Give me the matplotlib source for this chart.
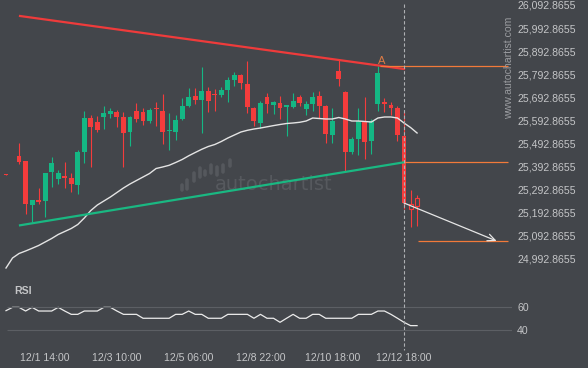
import matplotlib
matplotlib.use('Agg')
import matplotlib.pyplot as plt
import matplotlib.transforms as mtransforms
from matplotlib.lines import Line2D
import numpy as np

BG = '#43464b'
UP = '#14b784'
DOWN = '#f43c3c'
TXT = '#c4c5c7'
ORANGE = '#f27a3a'

plt.rcParams['font.family'] = ['Liberation Sans', 'DejaVu Sans']

# candles (price values)
opens = [25361.8, 25454.5, 25438.9, 25417.2, 25226.6, 25248.3, 25244.0, 25369.6,
         25339.3, 25350.1, 25343.6, 25313.3, 25456.2, 25603.4, 25586.1, 25607.8,
         25620.8, 25629.4, 25607.8, 25542.8, 25633.8, 25629.4, 25590.4, 25644.6,
         25633.8, 25545.0, 25542.8, 25599.1, 25655.4, 25698.7, 25681.4, 25720.4,
         25709.5, 25703.1, 25724.7, 25768.0, 25789.7, 25750.7, 25646.8, 25581.8,
         25694.4, 25659.7, 25668.4, 25653.2, 25651.1, 25694.4, 25642.4, 25664.1,
         25698.7, 25655.4, 25529.8, 25807.0, 25716.0, 25456.2, 25512.5, 25590.4,
         25503.8, 25664.1, 25670.6, 25659.7, 25646.8, 25525.5, 25209.3, 25222.3]
highs = [25361.8, 25457.9, 25495.2, 25417.2, 25248.3, 25300.3, 25365.2, 25434.5,
         25378.2, 25412.9, 25365.2, 25464.8, 25633.8, 25616.4, 25612.1, 25655.4,
         25646.8, 25638.1, 25629.4, 25612.1, 25668.4, 25646.8, 25646.8, 25672.7,
         25707.4, 25625.1, 25616.4, 25690.1, 25733.4, 25733.4, 25824.3, 25737.7,
         25729.0, 25737.7, 25781.0, 25802.7, 25794.0, 25850.3, 25651.1, 25677.1,
         25711.7, 25677.1, 25698.7, 25659.7, 25711.7, 25703.1, 25677.1, 25716.0,
         25720.4, 25659.7, 25646.8, 25854.6, 25720.4, 25521.2, 25646.8, 25694.4,
         25599.1, 25828.7, 25690.1, 25672.7, 25655.4, 25633.8, 25291.6, 25270.0]
lows = [25358.3, 25454.5, 25404.2, 25187.7, 25153.0, 25231.0, 25174.7, 25304.6,
        25317.6, 25300.3, 25282.9, 25274.3, 25408.5, 25391.2, 25542.8, 25555.8,
        25603.4, 25564.5, 25391.2, 25482.2, 25586.1, 25573.1, 25581.8, 25568.8,
        25490.8, 25464.8, 25508.2, 25594.8, 25651.1, 25664.1, 25538.5, 25629.4,
        25633.8, 25694.4, 25672.7, 25742.0, 25729.0, 25625.1, 25568.8, 25560.1,
        25625.1, 25620.8, 25599.1, 25525.5, 25646.8, 25655.4, 25616.4, 25633.8,
        25603.4, 25495.2, 25495.2, 25742.0, 25373.9, 25447.5, 25443.2, 25425.9,
        25447.5, 25633.8, 25629.4, 25616.4, 25503.8, 25209.3, 25131.4, 25135.7]
closes = [25358.3, 25457.9, 25412.9, 25231.0, 25248.3, 25239.6, 25365.2, 25408.5,
          25365.2, 25345.7, 25317.6, 25456.2, 25603.4, 25564.5, 25551.5, 25625.1,
          25633.8, 25607.8, 25538.5, 25607.8, 25599.1, 25590.4, 25638.1, 25640.3,
          25542.8, 25549.3, 25594.8, 25655.4, 25694.4, 25681.4, 25720.4, 25677.1,
          25705.2, 25724.7, 25768.0, 25789.7, 25755.0, 25651.1, 25590.4, 25668.4,
          25664.1, 25672.7, 25646.8, 25657.6, 25677.1, 25668.4, 25664.1, 25694.4,
          25655.4, 25534.1, 25590.4, 25772.4, 25456.2, 25512.5, 25590.4, 25499.5,
          25590.4, 25798.3, 25666.2, 25646.8, 25529.8, 25235.3, 25231.0, 25257.0]
hollow = [62, 63]

ma = [24953.8, 24997.1, 25016.6, 25027.4, 25039.1, 25051.2, 25066.4, 25081.6,
      25098.9, 25111.9, 25124.9, 25142.2, 25170.3, 25202.8, 25226.6, 25244.0,
      25261.3, 25280.8, 25300.3, 25317.6, 25332.8, 25347.9, 25363.1, 25384.7,
      25391.2, 25398.6, 25410.7, 25423.7, 25439.7, 25454.0, 25467.9, 25480.0,
      25488.7, 25501.7, 25516.8, 25529.8, 25542.8, 25550.2, 25555.8, 25560.1,
      25565.3, 25570.5, 25575.3, 25579.6, 25581.8, 25584.8, 25590.4, 25603.4,
      25601.3, 25599.1, 25599.1, 25605.6, 25599.1, 25590.4, 25590.4, 25588.3,
      25586.1, 25603.4, 25607.8, 25607.8, 25603.4, 25581.8, 25562.3, 25538.5]

rsi = [56.5, 59.3, 59.3, 56.2, 59.3, 56.2, 56.2, 56.2, 59.3, 56.2, 53.4, 53.4,
       56.2, 56.2, 56.2, 59.3, 59.3, 56.2, 53.4, 53.4, 53.4, 50.1, 50.1, 50.1,
       50.1, 50.1, 53.4, 53.4, 56.2, 53.4, 53.4, 50.1, 50.1, 50.1, 53.4, 53.4,
       53.4, 53.4, 50.1, 53.4, 50.1, 50.1, 46.7, 50.1, 53.4, 50.1, 50.1, 53.4,
       53.4, 50.1, 50.1, 50.1, 50.1, 50.1, 53.4, 53.4, 53.4, 56.2, 56.2, 53.4,
       50.1, 46.7, 43.9, 43.9]

# pattern lines
resist_x = [2.15, 61]
resist_y = [26045.2, 25815.7]
support_x = [2.15, 61]
support_y = [25138.7, 25411.6]
level_a = 25826.5
level_break = 25411.6
level_target = 25070.7
arrow_from = (61, 25235.3)
arrow_to = (75.2, 25070.7)
now_idx = 61

price_ticks = [24992.8655 + 100 * k for k in range(12)]
time_ticks = [6, 17, 28, 39, 50, 61]
time_labels = ['12/1 14:00', '12/3 10:00', '12/5 06:00', '12/8 22:00',
               '12/10 18:00', '12/12 18:00']

W, H = 588, 368
fig = plt.figure(figsize=(W / 100, H / 100), dpi=100, facecolor=BG)
ax = fig.add_axes([0, 1 - 280 / H, 512 / W, 280 / H], facecolor=BG)
ax2 = fig.add_axes([0, 1 - 345 / H, 512 / W, 60 / H], facecolor=BG, sharex=ax)

# watermark
ax.text(0.42, 0.34, 'autochartist', transform=ax.transAxes, color='#56595e',
        fontsize=14, family='DejaVu Sans', ha='left', va='center', zorder=2)
logo_lo = [190, 189, 181, 177, 175, 173, 175, 172, 166]
logo_hi = [185, 180, 173, 168, 171, 165, 167, 165, 160]
logo_x = [181.7, 187.3, 194, 200, 205, 210.7, 216.7, 223.3, 230]
for lx, lb, lt in zip(logo_x, logo_lo, logo_hi):
    ax.add_line(Line2D([lx / 512, lx / 512], [1 - lb / 280, 1 - lt / 280],
                       transform=ax.transAxes, color='#55585d', lw=2.6,
                       solid_capstyle='round', zorder=2))

x = np.arange(len(opens))
for i in x:
    o, h, l, c = opens[i], highs[i], lows[i], closes[i]
    col = UP if c > o else DOWN
    if i in hollow:
        col = DOWN
    ax.vlines(i, l, h, color=col, lw=0.8, zorder=3)
    lo, hi = min(o, c), max(o, c)
    if hi - lo < 4.0:
        lo, hi = (lo + hi) / 2 - 2.0, (lo + hi) / 2 + 2.0
    if i in hollow:
        ax.bar(i, hi - lo, bottom=lo, width=0.62, facecolor=BG,
               edgecolor=col, linewidth=0.8, zorder=3)
    else:
        ax.bar(i, hi - lo, bottom=lo, width=0.75, color=col, linewidth=0, zorder=3)

ax.plot(x, ma, color='#e4e4e4', lw=1.0, zorder=4)
ax.plot(resist_x, resist_y, color='#ee3b3b', lw=1.6, zorder=5)
ax.plot(support_x, support_y, color='#1ab882', lw=1.6, zorder=5)

xmax = 77.55
ax.hlines(level_a, 57.3, 76.9, color=ORANGE, lw=0.9, zorder=5)
ax.hlines(level_break, now_idx, 76.9, color=ORANGE, lw=0.9, zorder=5)
ax.hlines(level_target, 63.1, 76.9, color=ORANGE, lw=0.9, zorder=5)
ax.annotate('', xy=arrow_to, xytext=arrow_from,
            arrowprops=dict(arrowstyle='->,head_length=0.55,head_width=0.25',
                            color='#e6e6e6', lw=0.9, shrinkA=0, shrinkB=0), zorder=6)
ax.text(57.5, 25852, 'A', color='#dc7b46', fontsize=8, ha='center', va='center')

ax.set_xlim(-0.92, xmax)
ax.set_ylim(24901.8, 26114.5)
ax.yaxis.tick_right()
ax.set_yticks(price_ticks)
ax.set_yticklabels([f'{v:,.4f}' for v in price_ticks])
ax.tick_params(axis='y', length=0, pad=3.6, labelsize=7.6, labelcolor=TXT)
ax.tick_params(axis='x', length=0, labelbottom=False)
for s in ax.spines.values():
    s.set_visible(False)

# RSI panel
ax2.plot(x, rsi, color='#ececec', lw=0.9)
ax2.hlines([60, 40], 0.1, xmax, color='#5c5f64', lw=0.8)
ax2.set_ylim(27.6, 78.1)
ax2.yaxis.tick_right()
ax2.set_yticks([60, 40])
ax2.set_yticklabels(['60', '40'])
ax2.tick_params(axis='y', length=0, pad=3.6, labelsize=7.6, labelcolor=TXT)
ax2.set_xticks(time_ticks)
ax2.set_xticklabels(time_labels)
ax2.tick_params(axis='x', length=0, pad=6.0, labelsize=7.6, labelcolor=TXT)
for s in ax2.spines.values():
    s.set_visible(False)
fig.text(14 / W, 1 - 291 / H, 'RSI', color=TXT, fontsize=7.6, fontweight='bold',
         ha='left', va='center')

# current bar marker line
trans = mtransforms.blended_transform_factory(ax.transData, fig.transFigure)
fig.add_artist(Line2D([now_idx, now_idx], [1 - 4 / H, 1 - 350 / H], transform=trans,
                      color='#aeb0b3', lw=0.8, dashes=(3, 2)))

fig.text(509 / W, 1 - 68 / H, 'www.autochartist.com', rotation=90, color='#9a9ca0',
         fontsize=7.6, ha='center', va='center')

fig.savefig('out.png', dpi=100, facecolor=BG)
